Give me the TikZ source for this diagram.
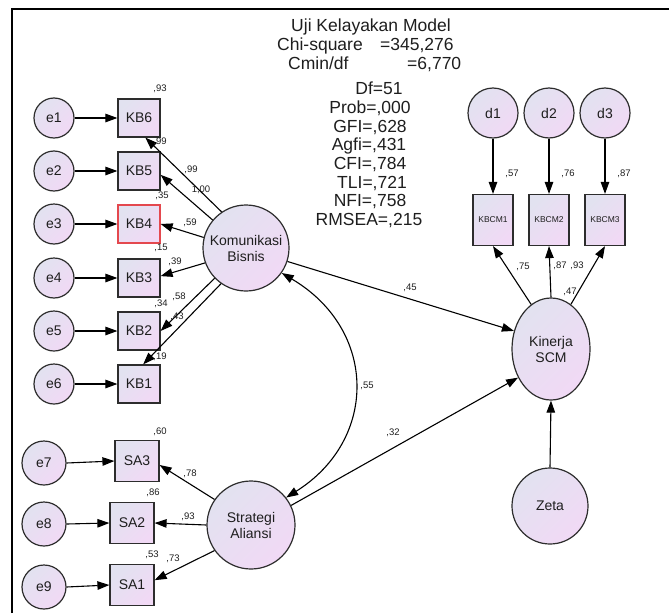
\documentclass[tikz,border=0pt]{standalone}
\usepackage{fontspec}
\setmainfont{Liberation Sans}
\usetikzlibrary{arrows.meta,shapes.geometric}
\definecolor{lavA}{RGB}{226,226,240}
\definecolor{lavB}{RGB}{241,217,245}
\definecolor{edgec}{RGB}{45,45,45}
\definecolor{redb}{RGB}{228,72,78}
\definecolor{txt}{RGB}{30,30,30}
\begin{document}
\begin{tikzpicture}[x=1pt,y=-1pt,
  lav/.style={draw=edgec,line width=1.2pt,top color=lavA,bottom color=lavB,shading angle=45,text=txt},
  obs/.style={lav,rectangle,inner sep=0pt,minimum width=42pt,minimum height=38pt,font=\fontsize{14}{16}\selectfont},
  sabox/.style={lav,rectangle,inner sep=0pt,minimum width=44pt,minimum height=41pt,font=\fontsize{14}{16}\selectfont},
  cmbox/.style={lav,rectangle,inner sep=0pt,minimum width=40pt,minimum height=51pt,font=\fontsize{8.5}{10}\selectfont},
  err/.style={lav,circle,inner sep=0pt,minimum size=40pt,font=\fontsize{14}{16}\selectfont},
  errb/.style={lav,circle,inner sep=0pt,minimum size=44pt,font=\fontsize{14}{16}\selectfont},
  latent/.style={lav,circle,inner sep=0pt,align=center,font=\fontsize{14}{16}\selectfont},
  arr/.style={line width=1.1pt,draw=black,-{Triangle[length=12pt,width=8.5pt]}},
  darr/.style={line width=1.1pt,draw=black,{Triangle[length=12pt,width=8.5pt]}-{Triangle[length=12pt,width=8.5pt]}},
  coef/.style={font=\fontsize{9.5}{10}\selectfont,inner sep=0pt,text=txt},
  fit/.style={font=\fontsize{17.5}{18.5}\selectfont,inner sep=0pt,anchor=base,text=txt},
  frame/.style={line width=2pt,draw=black}
]
\useasboundingbox (0,0) rectangle (669,613);
% frame
\coordinate (fa) at (12,613);
\coordinate (fb) at (12,9);
\coordinate (fc) at (669,9);
\draw[frame] (fa) -- (fb) -- (fc);

% fit text
\node[fit] (t0) at (371,31) {Uji Kelayakan Model};
\node[fit,anchor=base west] (t1a) at (277,50) {Chi-square};
\node[fit,anchor=base west] (t1b) at (380,50) {=345,276};
\node[fit,anchor=base west] (t2a) at (288,69) {Cmin/df};
\node[fit,anchor=base west] (t2b) at (407,69) {=6,770};
\node[fit] (t3) at (379,94) {Df=51};
\node[fit] (t4) at (370,113) {Prob=,000};
\node[fit] (t5) at (370,132) {GFI=,628};
\node[fit] (t6) at (369,150) {Agfi=,431};
\node[fit] (t7) at (370,169) {CFI=,784};
\node[fit] (t8) at (372,188) {TLI=,721};
\node[fit] (t9) at (370,206) {NFI=,758};
\node[fit] (t10) at (369,225) {RMSEA=,215};

% KB indicators
\node[obs] (KB6) at (139,118) {KB6};
\node[obs] (KB5) at (139,171) {KB5};
\node[obs,draw=redb] (KB4) at (139,224) {KB4};
\node[obs] (KB3) at (139,278) {KB3};
\node[obs] (KB2) at (139,331) {KB2};
\node[obs] (KB1) at (139,384) {KB1};
\node[err] (e1) at (54,118) {e1};
\node[err] (e2) at (54,171) {e2};
\node[err] (e3) at (54,224) {e3};
\node[err] (e4) at (54,278) {e4};
\node[err] (e5) at (54,331) {e5};
\node[err] (e6) at (54,384) {e6};

% SA indicators
\node[sabox] (SA3) at (137,461) {SA3};
\node[sabox] (SA2) at (132,523) {SA2};
\node[sabox] (SA1) at (132,585) {SA1};
\node[errb] (e7) at (44,463) {e7};
\node[errb] (e8) at (44,524) {e8};
\node[errb] (e9) at (44,587) {e9};

% latents
\node[latent,minimum size=86pt] (kom) at (246,248) {Komunikasi\\Bisnis};
\node[latent,minimum size=88pt] (strat) at (251,525) {Strategi\\Aliansi};
\node[latent,ellipse,minimum width=78pt,minimum height=102pt] (kin) at (551,349) {Kinerja\\SCM};
\node[latent,minimum size=76pt] (zeta) at (550,506) {Zeta};

% KBCM
\node[cmbox] (KC1) at (493,220) {KBCM1};
\node[cmbox] (KC2) at (549,220) {KBCM2};
\node[cmbox] (KC3) at (605,220) {KBCM3};
\node[err,minimum size=50pt] (d1) at (493,113) {d1};
\node[err,minimum size=50pt] (d2) at (549,113) {d2};
\node[err,minimum size=50pt] (d3) at (605,113) {d3};

% error arrows
\draw[arr] (e1.east) -- (KB6.west);
\draw[arr] (e2.east) -- (KB5.west);
\draw[arr] (e3.east) -- (KB4.west);
\draw[arr] (e4.east) -- (KB3.west);
\draw[arr] (e5.east) -- (KB2.west);
\draw[arr] (e6.east) -- (KB1.west);
\draw[arr] (e7.east) -- (SA3.west);
\draw[arr] (e8.east) -- (SA2.west);
\draw[arr] (e9.east) -- (SA1.west);
\draw[arr] (d1.south) -- (KC1.north);
\draw[arr] (d2.south) -- (KC2.north);
\draw[arr] (d3.south) -- (KC3.north);
\draw[arr] (zeta.north) -- (kin.south);

% loadings
\draw[arr] (kom.124) -- (KB6.-72);
\draw[arr] (kom.140) -- (KB5.-10);
\draw[arr] (kom.166) -- (KB4.east);
\draw[arr] (kom.200) -- (KB3.5);
\draw[arr] (kom.224) -- (KB2.east);
\draw[arr] (kom.235) -- (KB1.78);
\draw[arr] (strat.145) -- (SA3.-10);
\draw[arr] (strat.180) -- (SA2.east);
\draw[arr] (strat.215) -- (SA1.12);
\draw[arr] (kin.114) -- (KC1.south);
\draw[arr] (kin.north) -- (KC2.south);
\draw[arr] (kin.66) -- (KC3.south);

% structural
\draw[arr] (kom.-18) -- (kin.154);
\draw[arr] (strat.26) -- (kin.221);
\draw[darr] (kom.-35) .. controls (378,330) and (378,440) .. (strat.38);

% coefficients
\node[coef] (c1) at (160,89) {,93};
\node[coef] (c2) at (160,142) {,99};
\node[coef] (c3) at (191,170) {,99};
\node[coef] (c4) at (201,190) {1,00};
\node[coef] (c5) at (162,196) {,35};
\node[coef] (c6) at (190,223) {,59};
\node[coef] (c7) at (161,248) {,15};
\node[coef] (c8) at (175,262) {,39};
\node[coef] (c9) at (161,304) {,34};
\node[coef] (c10) at (179,297) {,58};
\node[coef] (c11) at (177,317) {,43};
\node[coef] (c12) at (160,357) {,19};
\node[coef] (c13) at (160,432) {,60};
\node[coef] (c14) at (190,474) {,78};
\node[coef] (c15) at (153,493) {,86};
\node[coef] (c16) at (188,517) {,93};
\node[coef] (c17) at (152,555) {,53};
\node[coef] (c18) at (173,559) {,73};
\node[coef] (c19) at (367,386) {,55};
\node[coef] (c20) at (393,433) {,32};
\node[coef] (c21) at (410,288) {,45};
\node[coef] (c22) at (512,174) {,57};
\node[coef] (c23) at (568,174) {,76};
\node[coef] (c24) at (624,174) {,87};
\node[coef] (c25) at (523,267) {,75};
\node[coef] (c26) at (560,266) {,87};
\node[coef] (c27) at (577,266) {,93};
\node[coef] (c28) at (570,292) {,47};
\end{tikzpicture}
\end{document}
